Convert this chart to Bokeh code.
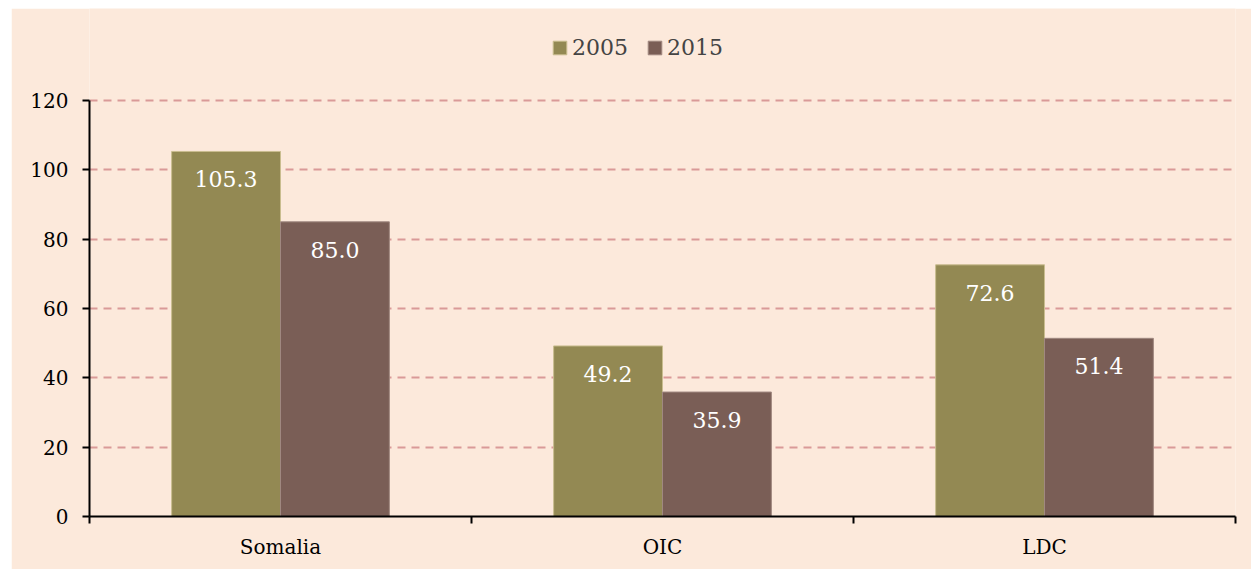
from bokeh.plotting import figure
from bokeh.models import ColumnDataSource, FixedTicker, Legend, LegendItem, Spacer
from bokeh.layouts import row, column
from bokeh.core.properties import value
from bokeh.embed import file_html
from bokeh.resources import INLINE

categories = ["Somalia", "OIC", "LDC"]
years = ["2005", "2015"]
values_2005 = [105.3, 49.2, 72.6]
values_2015 = [85.0, 35.9, 51.4]
y_ticks = [0, 20, 40, 60, 80, 100, 120]

colors = ["#938953", "#7A5E56"]
outlines = ["#C9BD8F", "#A08880"]
bg = "#FCE9DB"
font = "DejaVu Serif"

bar_w = 0.285
offsets = [-bar_w / 2, bar_w / 2]

# frame spans from figure top (508 px) while 0..120 occupies 416 px
y_top = 120 * 508 / 416

p = figure(width=1240, height=561, x_range=(0, 3), y_range=(0, y_top),
           output_backend="svg", toolbar_location=None,
           min_border_left=78, min_border_right=16, min_border_top=0, min_border_bottom=53)
p.background_fill_color = bg
p.border_fill_color = bg
p.outline_line_color = None

renderers = []
for series, col, oc, off in zip([values_2005, values_2015], colors, outlines, offsets):
    xs = [i + 0.5 + off for i in range(len(categories))]
    src = ColumnDataSource(dict(x=xs, top=series, lab=[f"{v:.1f}" for v in series]))
    r = p.vbar(x="x", top="top", width=bar_w, bottom=0, source=src,
               fill_color=col, line_color=oc, line_width=1)
    renderers.append(r)
    p.text(x="x", y="top", text="lab", source=src, text_align="center",
           text_baseline="middle", y_offset=28, text_color="white",
           text_font=value(font), text_font_size="22px")

p.xgrid.visible = False
p.ygrid.ticker = FixedTicker(ticks=y_ticks)
p.ygrid.grid_line_color = "#D99A98"
p.ygrid.grid_line_width = 2
p.ygrid.grid_line_dash = "8 6"

ya = p.yaxis[0]
ya.ticker = FixedTicker(ticks=y_ticks)
ya.bounds = (y_ticks[0], y_ticks[-1])
ya.axis_line_color = "black"
ya.axis_line_width = 2
ya.major_tick_line_color = "black"
ya.major_tick_line_width = 2
ya.major_tick_out = 7
ya.major_tick_in = 0
ya.minor_tick_line_color = None
ya.major_label_text_font = font
ya.major_label_text_font_size = "20px"
ya.major_label_text_color = "black"
ya.major_label_standoff = 14

xa = p.xaxis[0]
xa.ticker = FixedTicker(ticks=[i + 0.5 for i in range(len(categories))],
                        minor_ticks=list(range(len(categories) + 1)))
xa.major_label_overrides = {i + 0.5: c for i, c in enumerate(categories)}
xa.axis_line_color = "black"
xa.axis_line_width = 2
xa.major_tick_out = 0
xa.major_tick_in = 0
xa.minor_tick_line_color = "black"
xa.minor_tick_line_width = 2
xa.minor_tick_out = 7
xa.minor_tick_in = 0
xa.major_label_text_font = font
xa.major_label_text_font_size = "20px"
xa.major_label_text_color = "black"
xa.major_label_standoff = 11

legend = Legend(items=[LegendItem(label=y, renderers=[r]) for y, r in zip(years, renderers)],
                orientation="horizontal", location=(462, 456),
                background_fill_alpha=0, border_line_color=None,
                label_text_font=font, label_text_font_size="22px",
                glyph_width=17, glyph_height=17, label_standoff=4, spacing=18,
                padding=0, margin=0)
p.add_layout(legend, "center")

layout = column(Spacer(width=1251, height=8),
                row(Spacer(width=11, height=561), p))
open("out.html", "w").write(file_html(layout, INLINE))
